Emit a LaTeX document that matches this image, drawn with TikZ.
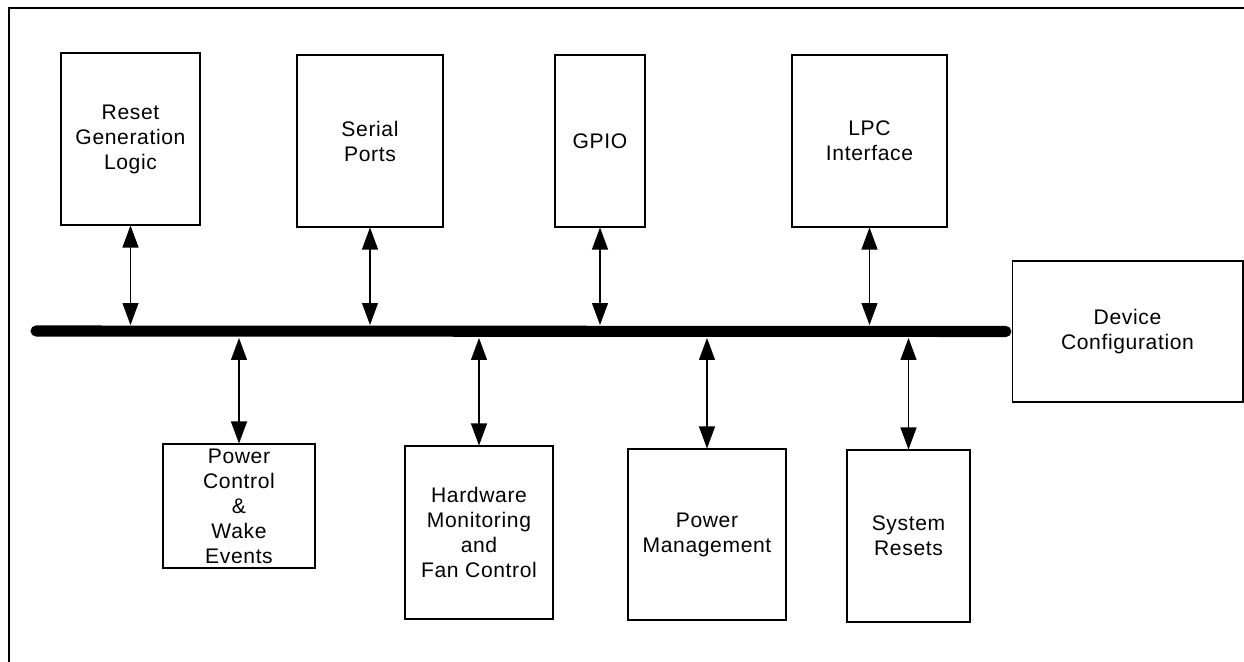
\documentclass[tikz,border=0pt]{standalone}
\usepackage{fontspec}
\setmainfont{Liberation Sans}[LetterSpace=3]
\usetikzlibrary{arrows.meta}
\tikzset{blk/.style={rectangle,draw,line width=0.6pt,align=center,inner sep=0pt,font=\fontsize{12}{14.2}\selectfont}}
\tikzset{link/.style={{Triangle[length=0.44cm,width=0.32cm]}-{Triangle[length=0.44cm,width=0.32cm]},line width=0.6pt}}

\begin{document}
\begin{tikzpicture}[x=0.02cm,y=-0.02cm]
      \useasboundingbox (0,0) rectangle (1244,662);
      \draw[line width=1.2pt] (9,662) |- (1244,8);
      % blocks above the bus
      \node[blk,minimum width=2.78cm,minimum height=3.44cm] (reset) at (130.5,139) {Reset\\Generation\\Logic};
      \node[blk,minimum width=2.92cm,minimum height=3.44cm] (serial) at (370,141) {Serial\\Ports};
      \node[blk,minimum width=1.8cm,minimum height=3.44cm] (gpio) at (600,141) {GPIO};
      \node[blk,minimum width=3.1cm,minimum height=3.44cm] (lpc) at (869.5,141) {LPC\\Interface};
      \node[blk,minimum width=4.62cm,minimum height=2.82cm] (devcfg) at (1127.5,331.5) {Device\\Configuration};
      % blocks below the bus
      \node[blk,minimum width=3.04cm,minimum height=2.48cm] (pwrctl) at (239,506) {Power\\Control\\\&\\Wake\\Events};
      \node[blk,minimum width=2.96cm,minimum height=3.46cm] (hwmon) at (479,532.5) {Hardware\\Monitoring\\and\\Fan Control};
      \node[blk,minimum width=3.16cm,minimum height=3.42cm] (pm) at (707,534.5) {Power\\Management};
      \node[blk,minimum width=2.46cm,minimum height=3.44cm] (sysrst) at (908.5,536) {System\\Resets};
      % the bus
      \coordinate (busL) at (36,331);
      \coordinate (busR) at (devcfg.west);
      \coordinate (busT) at (0,325);
      \coordinate (busB) at (0,338);
      \draw[line width=6.3pt,line cap=round] (busL) -- ([xshift=-3.2pt]busR);
        \foreach \n in {reset,serial,gpio,lpc}
          \draw[link] (\n) -- (\n |- busT);
        \foreach \n in {pwrctl,hwmon,pm,sysrst}
          \draw[link] (\n |- busB) -- (\n);
    \end{tikzpicture}
\end{document}
